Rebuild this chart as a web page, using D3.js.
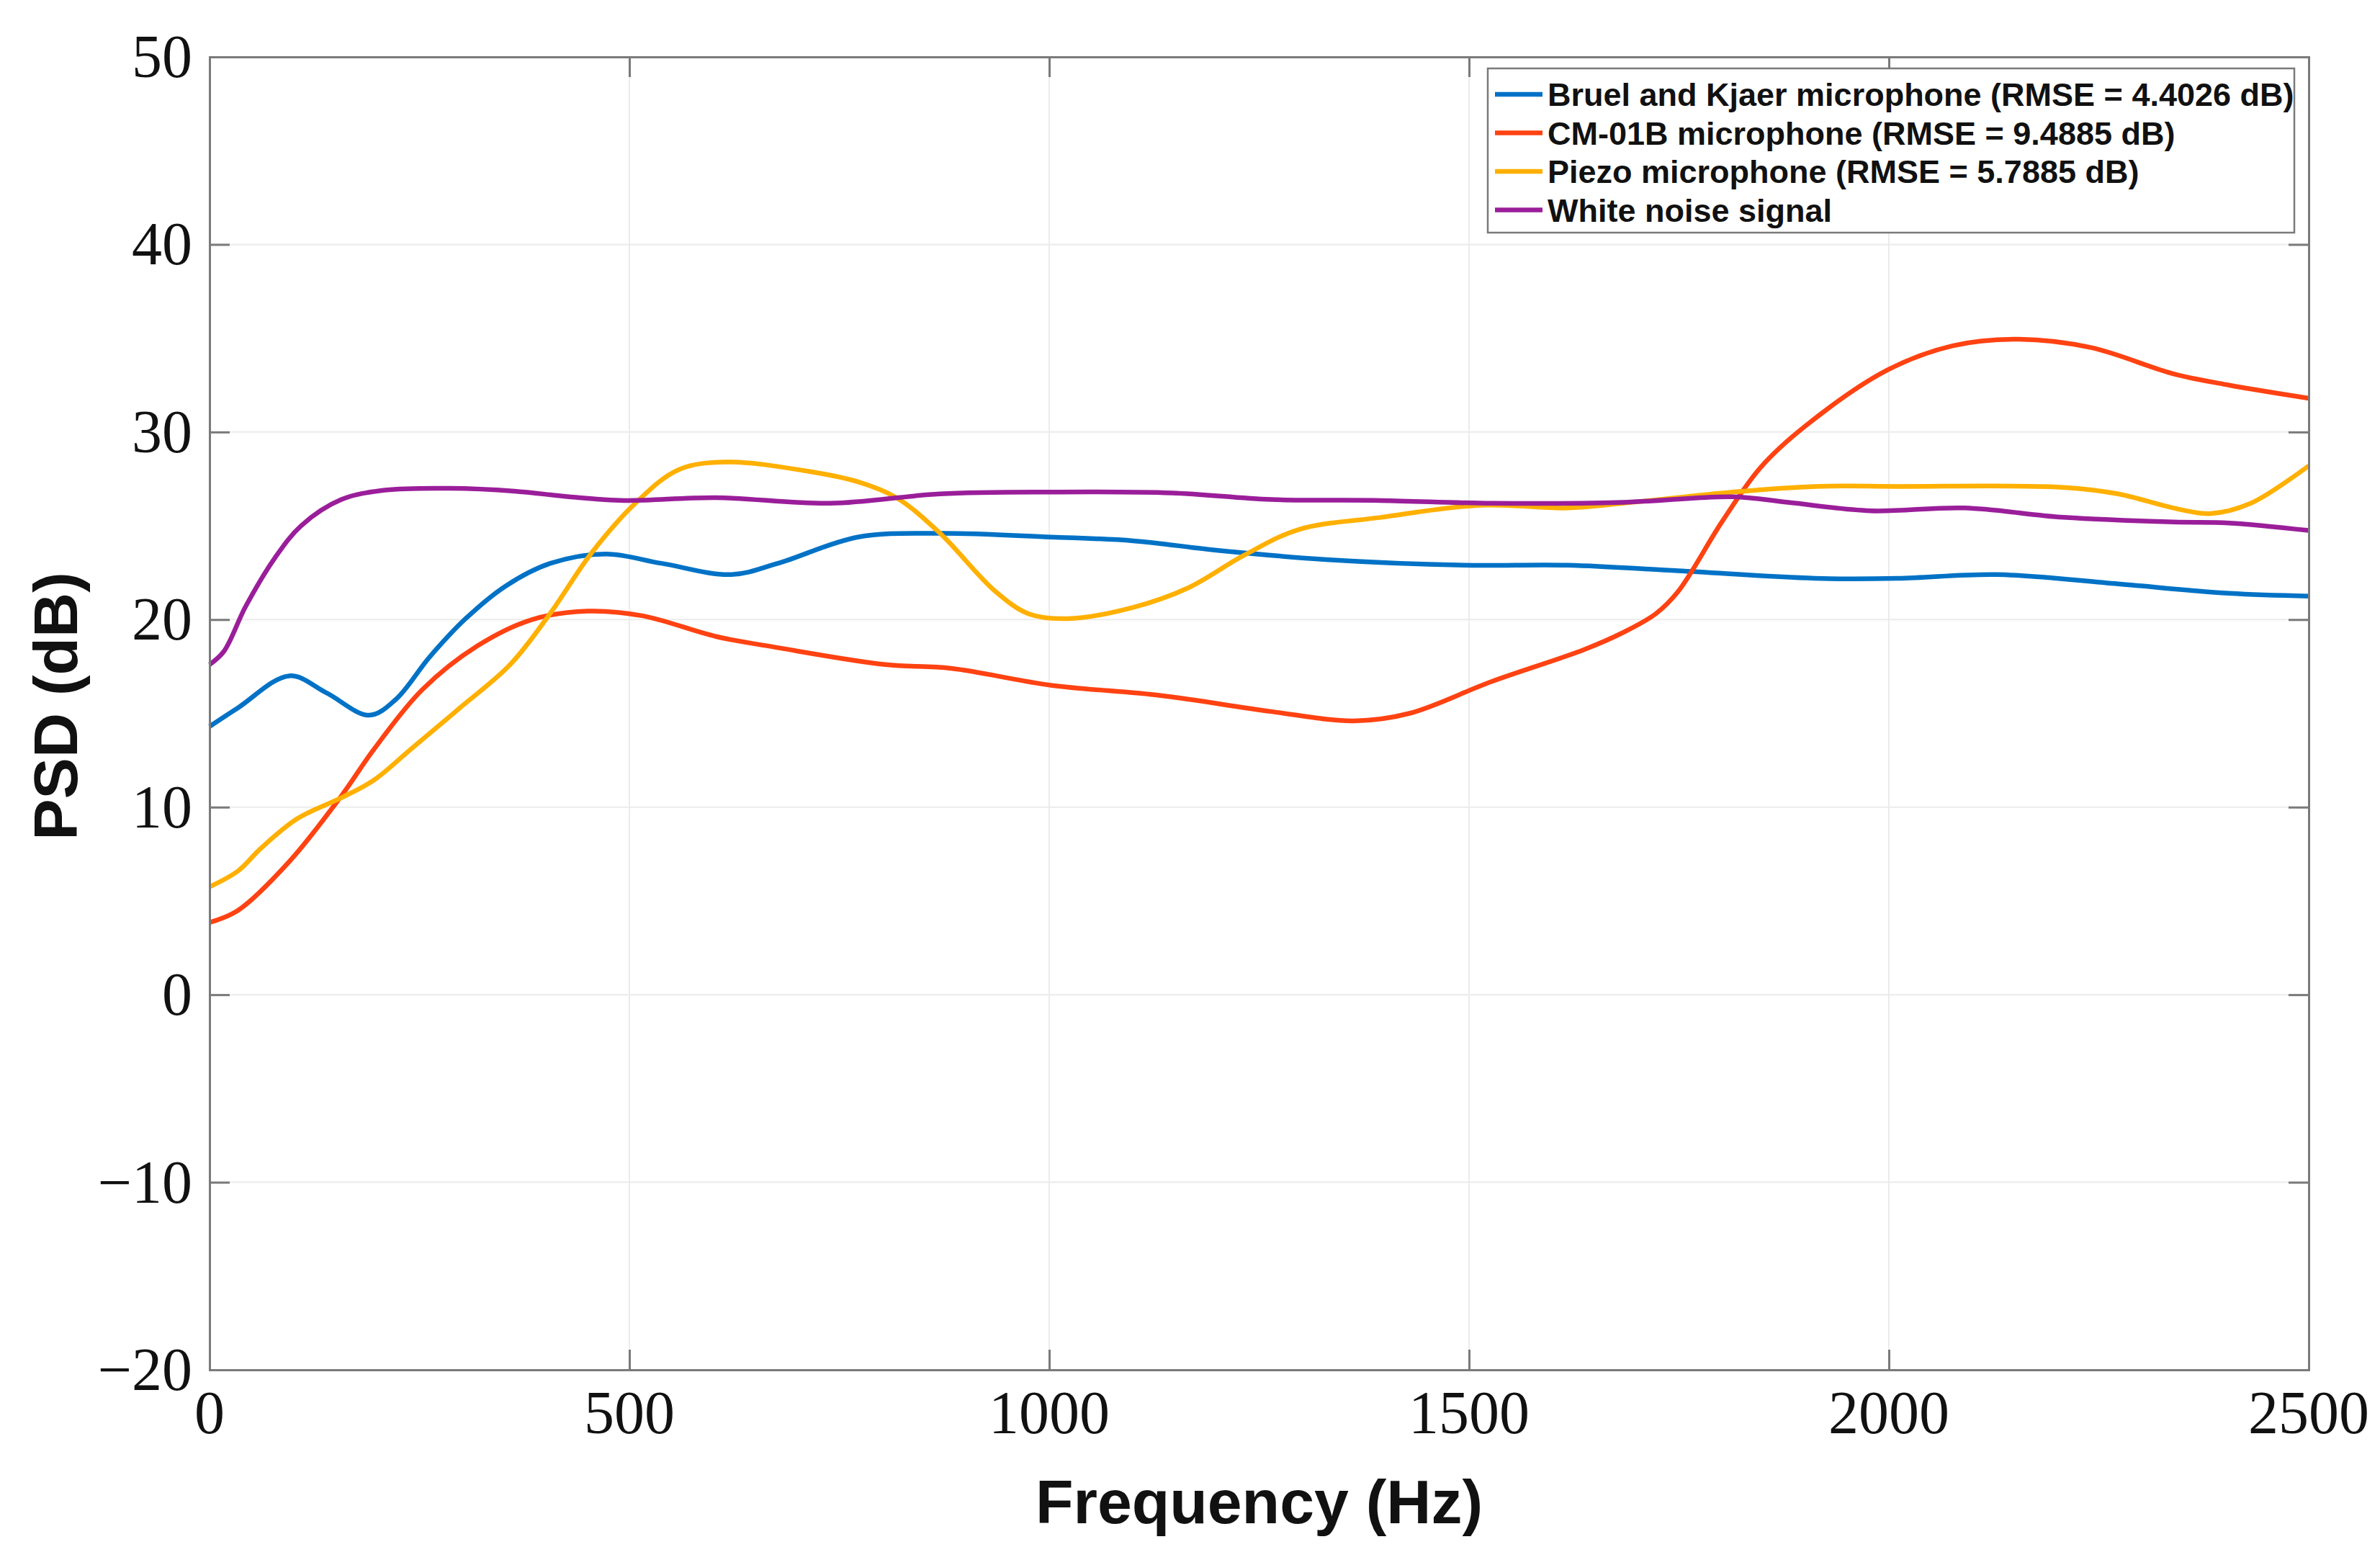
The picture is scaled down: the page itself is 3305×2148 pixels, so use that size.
<!DOCTYPE html>
<html>
<head>
<meta charset="utf-8">
<script src="https://cdn.jsdelivr.net/npm/d3@7"></script>
<style>
  body { margin: 0; background: white; }
</style>
</head>
<body>
<div id="chart-area"></div>
<script>
// series data (frequency in Hz, PSD in dB)
var freqBK = [0, 34, 95, 139, 190, 222, 262, 305, 353, 406, 472, 538, 621, 677, 772, 870, 1002, 1100, 1199, 1330, 1494, 1617, 1749, 1912, 2011, 2129, 2273, 2405, 2500];
var psdBK  = [14.3, 15.3, 17.0, 16.1, 14.9, 15.75, 18.0, 20.05, 21.8, 23.0, 23.5, 23.0, 22.4, 23.0, 24.4, 24.6, 24.4, 24.2, 23.7, 23.2, 22.9, 22.9, 22.6, 22.2, 22.2, 22.4, 21.9, 21.4, 21.25];

var freqCM = [0, 34, 95, 157, 196, 253, 319, 384, 450, 516, 603, 677, 805, 883, 1002, 1133, 1264, 1363, 1429, 1527, 1637, 1683, 1722, 1749, 1801, 1847, 1900, 1998, 2076, 2155, 2241, 2339, 2405, 2500];
var psdCM  = [3.85, 4.5, 7.1, 10.6, 13.1, 16.25, 18.6, 20.0, 20.45, 20.2, 19.1, 18.5, 17.6, 17.4, 16.5, 15.95, 15.1, 14.6, 15.0, 16.7, 18.4, 19.3, 20.3, 21.5, 25.2, 28.1, 30.3, 33.3, 34.6, 34.95, 34.5, 33.1, 32.5, 31.8];

var freqPZ = [0, 34, 61, 105, 157, 196, 240, 297, 358, 406, 454, 507, 559, 616, 707, 772, 818, 870, 936, 976, 1022, 1100, 1166, 1231, 1297, 1395, 1514, 1617, 1683, 1814, 1912, 2011, 2208, 2273, 2339, 2382, 2431, 2500];
var psdPZ  = [5.75, 6.6, 7.8, 9.4, 10.5, 11.45, 13.1, 15.25, 17.6, 20.35, 23.5, 26.2, 28.0, 28.4, 27.95, 27.35, 26.5, 24.6, 21.5, 20.3, 20.05, 20.65, 21.7, 23.4, 24.8, 25.45, 26.1, 25.95, 26.2, 26.8, 27.1, 27.1, 27.05, 26.7, 25.95, 25.65, 26.2, 28.2];

var freqWN = [0, 17, 43, 78, 109, 157, 209, 286, 363, 428, 494, 603, 739, 870, 1002, 1146, 1264, 1395, 1527, 1683, 1814, 1880, 1978, 2090, 2208, 2339, 2405, 2500];
var psdWN  = [17.6, 18.3, 20.7, 23.3, 25.0, 26.4, 26.9, 27.0, 26.85, 26.55, 26.35, 26.5, 26.2, 26.7, 26.8, 26.75, 26.4, 26.35, 26.2, 26.25, 26.55, 26.25, 25.8, 25.95, 25.45, 25.2, 25.15, 24.75];

var seriesNames = [
    "Bruel and Kjaer microphone (RMSE = 4.4026 dB)",
    "CM-01B microphone (RMSE = 9.4885 dB)",
    "Piezo microphone (RMSE = 5.7885 dB)",
    "White noise signal"
];
var seriesColors = ["#0072C6", "#FF4212", "#FFB000", "#9A1E9A"];

var xTicks = [0, 500, 1000, 1500, 2000, 2500];
var yTicks = [-20, -10, 0, 10, 20, 30, 40, 50];

var W = 3305, H = 2148;
var margin = { left: 291, right: 99, top: 79, bottom: 246 };
var width = W - margin.left - margin.right;
var height = H - margin.top - margin.bottom;

var svg = d3.select("#chart-area").append("svg")
    .attr("width", W)
    .attr("height", H);

var g = svg.append("g")
    .attr("transform", "translate(" + margin.left + ", " + margin.top + ")");

var x = d3.scaleLinear().domain([0, 2500]).range([0, width]);
var y = d3.scaleLinear().domain([-20, 50]).range([height, 0]);

// grid
g.selectAll(".gx").data(xTicks).enter().append("line")
    .attr("x1", (d) => x(d)).attr("x2", (d) => x(d))
    .attr("y1", 0).attr("y2", height)
    .attr("stroke", "#ebebeb").attr("stroke-width", 2);
g.selectAll(".gy").data(yTicks).enter().append("line")
    .attr("x1", 0).attr("x2", width)
    .attr("y1", (d) => y(d)).attr("y2", (d) => y(d))
    .attr("stroke", "#ebebeb").attr("stroke-width", 2);

// lines
var dataSets = [
    freqBK.map((f, i) => [f, psdBK[i]]),
    freqCM.map((f, i) => [f, psdCM[i]]),
    freqPZ.map((f, i) => [f, psdPZ[i]]),
    freqWN.map((f, i) => [f, psdWN[i]])
];
var line = d3.line()
    .x((d) => x(d[0]))
    .y((d) => y(d[1]))
    .curve(d3.curveCatmullRom.alpha(0.5));

dataSets.forEach((ds, i) => {
    g.append("path")
        .datum(ds)
        .attr("d", line)
        .attr("fill", "none")
        .attr("stroke", seriesColors[i])
        .attr("stroke-width", 6.5)
        .attr("stroke-linejoin", "round");
});

// axes (box with ticks on all sides)
var tickLen = 28;
var axisColor = "#7a7a7a";
var axB = d3.axisBottom(x).tickValues(xTicks).tickSize(-tickLen).tickFormat("");
var axT = d3.axisTop(x).tickValues(xTicks).tickSize(-tickLen).tickFormat("");
var axL = d3.axisLeft(y).tickValues(yTicks).tickSize(-tickLen).tickFormat("");
var axR = d3.axisRight(y).tickValues(yTicks).tickSize(-tickLen).tickFormat("");

g.append("g").attr("class", "x axis").attr("transform", "translate(0," + height + ")").call(axB);
g.append("g").attr("class", "x axis").call(axT);
g.append("g").attr("class", "y axis").call(axL);
g.append("g").attr("class", "y axis").attr("transform", "translate(" + width + ",0)").call(axR);

g.selectAll(".axis .domain").attr("stroke", axisColor).attr("stroke-width", 3);
g.selectAll(".axis .tick line").attr("stroke", axisColor).attr("stroke-width", 3);

// tick labels
g.selectAll(".xlab").data(xTicks).enter().append("text")
    .attr("x", (d) => x(d))
    .attr("y", height + 88)
    .attr("text-anchor", "middle")
    .style("font-family", "'Liberation Serif', 'DejaVu Serif', serif")
    .style("font-size", "84px")
    .attr("fill", "#111")
    .text((d) => d);

g.selectAll(".ylab").data(yTicks).enter().append("text")
    .attr("x", -24)
    .attr("y", (d) => y(d) + 28)
    .attr("text-anchor", "end")
    .style("font-family", "'Liberation Serif', 'DejaVu Serif', serif")
    .style("font-size", "84px")
    .attr("fill", "#111")
    .text((d) => d < 0 ? "\u2212" + Math.abs(d) : d);

// axis titles
g.append("text")
    .attr("x", width / 2)
    .attr("y", height + 213)
    .attr("text-anchor", "middle")
    .style("font-family", "'Liberation Sans', Arial, sans-serif")
    .style("font-weight", "bold")
    .style("font-size", "86px")
    .attr("fill", "#111")
    .text("Frequency (Hz)");

g.append("text")
    .attr("transform", "translate(" + (-184) + "," + (height / 2 - 10) + ") rotate(-90)")
    .attr("text-anchor", "middle")
    .style("font-family", "'Liberation Sans', Arial, sans-serif")
    .style("font-weight", "bold")
    .style("font-size", "86px")
    .attr("fill", "#111")
    .text("PSD (dB)");

// legend
var lg = svg.append("g").attr("transform", "translate(2066, 95)");
lg.append("rect")
    .attr("width", 1120).attr("height", 228)
    .attr("fill", "white")
    .attr("stroke", "#7a7a7a").attr("stroke-width", 2.5);

seriesNames.forEach((name, i) => {
    var yy = 36 + i * 53.5;
    lg.append("line")
        .attr("x1", 10).attr("x2", 76)
        .attr("y1", yy).attr("y2", yy)
        .attr("stroke", seriesColors[i]).attr("stroke-width", 6.5);
    lg.append("text")
        .attr("x", 83).attr("y", yy + 16)
        .style("font-family", "'Liberation Sans', Arial, sans-serif")
        .style("font-weight", "bold")
        .style("font-size", "45px")
        .attr("fill", "#111")
        .text(name);
});
</script>
</body>
</html>
